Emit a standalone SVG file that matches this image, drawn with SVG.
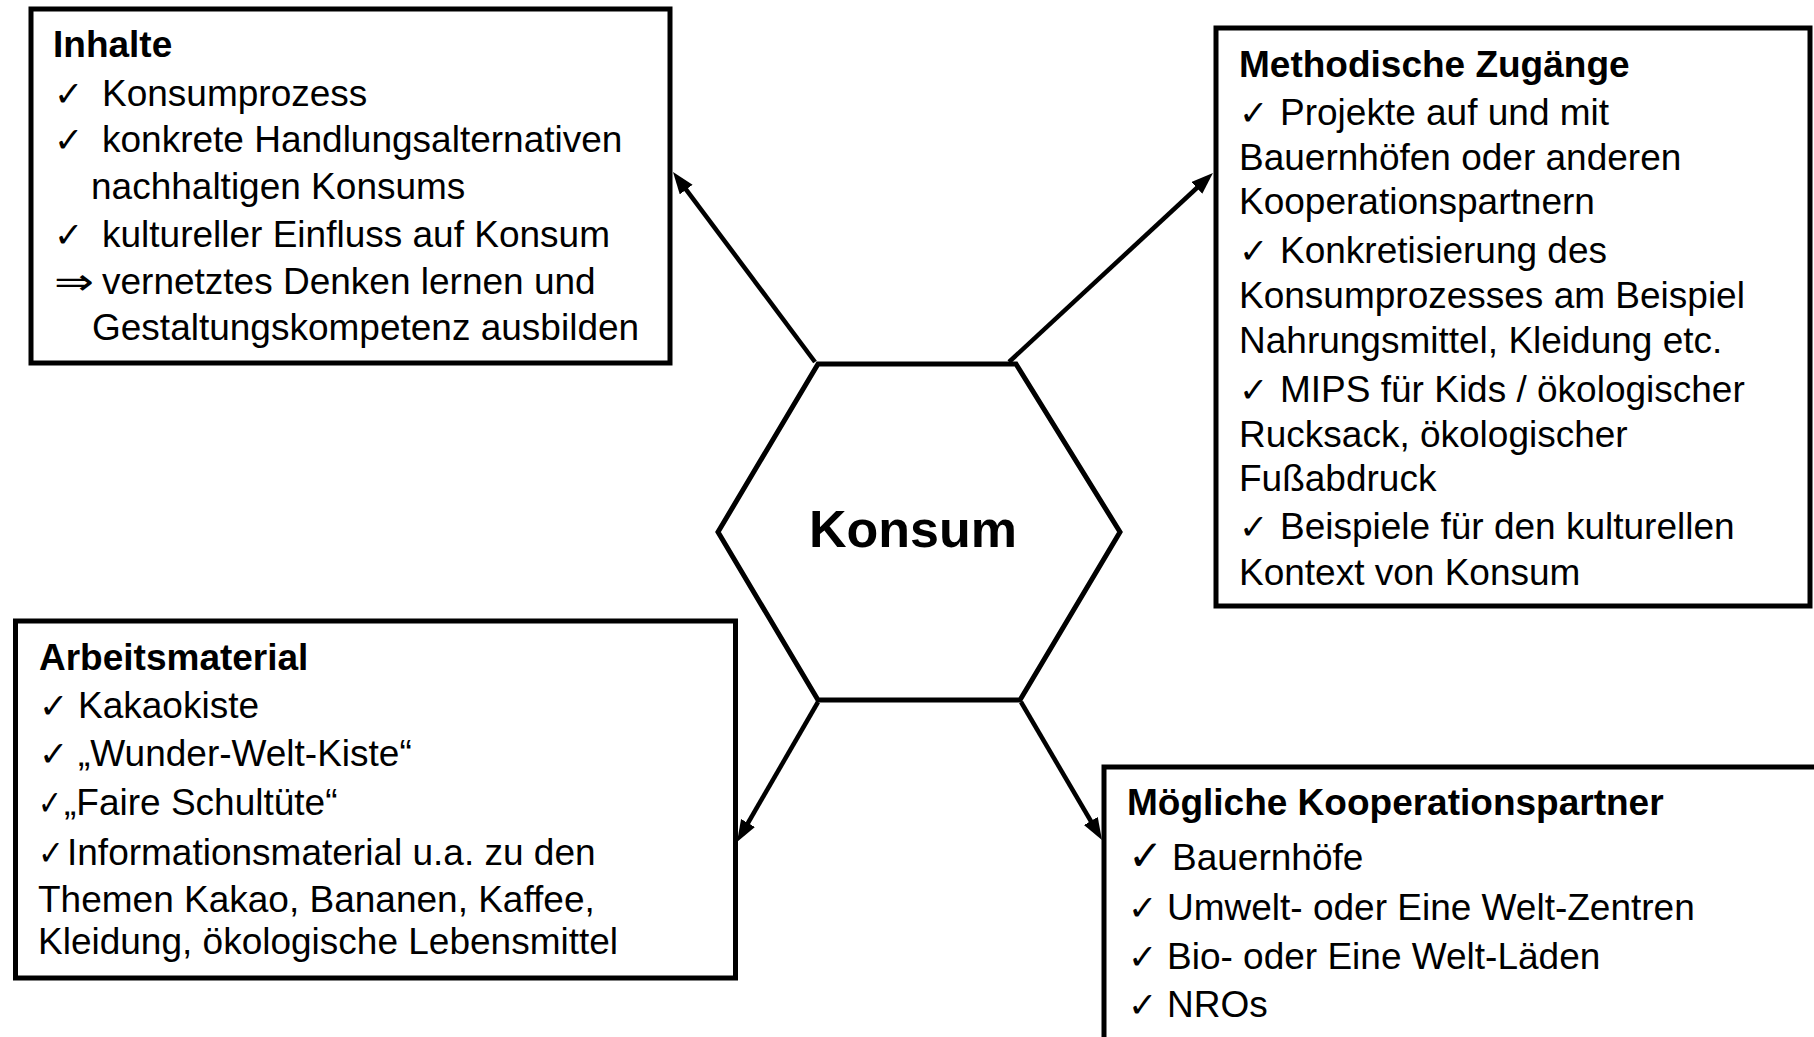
<svg xmlns="http://www.w3.org/2000/svg" width="1814" height="1037" viewBox="0 0 1814 1037">
<style>
text{font-family:"Liberation Sans",Arial,"DejaVu Sans",sans-serif;font-size:37px;fill:#000}
.b{font-weight:bold}
.ck{font-family:"DejaVu Sans","Liberation Sans",sans-serif;font-size:35px}
.box{fill:#fff;stroke:#000;stroke-width:5}
.hex{fill:#fff;stroke:#000;stroke-width:5;stroke-linejoin:miter}
.con{fill:none;stroke:#000;stroke-width:4.5}
</style>
<defs>
<marker id="arr" markerUnits="userSpaceOnUse" markerWidth="24" markerHeight="18" refX="11" refY="8" orient="auto">
<path d="M0,0 L22,8 L0,16 Z" fill="#000"/>
</marker>
</defs>
<rect width="1814" height="1037" fill="#fff"/>
<g id="connectors">
<line class="con" x1="815" y1="362" x2="679.6" y2="180.8" marker-end="url(#arr)"/>
<line class="con" x1="1009" y1="362" x2="1204.9" y2="180.5" marker-end="url(#arr)"/>
<line class="con" x1="818" y1="702" x2="742.5" y2="832.5" marker-end="url(#arr)"/>
<line class="con" x1="1021" y1="702" x2="1096.4" y2="830.5" marker-end="url(#arr)"/>
</g>
<g id="konsum">
<polygon class="hex" points="818,364 1016,364 1120,532 1020,700 818,700 718,532"/>
<text class="b" x="913" y="547" text-anchor="middle" style="font-size:52px">Konsum</text>
</g>
<g id="inhalte">
<rect class="box" x="31" y="9" width="639" height="354"/>
<text class="b" x="53" y="57">Inhalte</text>
<text y="106"><tspan class="ck" x="54">✓</tspan><tspan x="102">Konsumprozess</tspan></text>
<text y="152"><tspan class="ck" x="54">✓</tspan><tspan x="102">konkrete Handlungsalternativen</tspan></text>
<text x="91" y="199">nachhaltigen Konsums</text>
<text y="247"><tspan class="ck" x="54">✓</tspan><tspan x="102">kultureller Einfluss auf Konsum</tspan></text>
<text y="294"><tspan class="ck" x="54" style="font-size:36px" textLength="40" lengthAdjust="spacingAndGlyphs">⇒</tspan><tspan x="102">vernetztes Denken lernen und</tspan></text>
<text x="92" y="340">Gestaltungskompetenz ausbilden</text>
</g>
<g id="methodische">
<rect class="box" x="1216" y="28" width="594" height="578"/>
<text class="b" x="1239" y="77">Methodische Zugänge</text>
<text y="125"><tspan class="ck" x="1239">✓</tspan><tspan x="1280">Projekte auf und mit</tspan></text>
<text x="1239" y="170">Bauernhöfen oder anderen</text>
<text x="1239" y="214">Kooperationspartnern</text>
<text y="263"><tspan class="ck" x="1239">✓</tspan><tspan x="1280">Konkretisierung des</tspan></text>
<text x="1239" y="308">Konsumprozesses am Beispiel</text>
<text x="1239" y="353">Nahrungsmittel, Kleidung etc.</text>
<text y="402"><tspan class="ck" x="1239">✓</tspan><tspan x="1280">MIPS für Kids / ökologischer</tspan></text>
<text x="1239" y="447">Rucksack, ökologischer</text>
<text x="1239" y="491">Fußabdruck</text>
<text y="539"><tspan class="ck" x="1239">✓</tspan><tspan x="1280">Beispiele für den kulturellen</tspan></text>
<text x="1239" y="585">Kontext von Konsum</text>
</g>
<g id="arbeitsmaterial">
<rect class="box" x="15.5" y="621" width="720" height="357"/>
<text class="b" x="39" y="670">Arbeitsmaterial</text>
<text y="718"><tspan class="ck" x="39">✓</tspan><tspan x="78">Kakaokiste</tspan></text>
<text y="766"><tspan class="ck" x="39">✓</tspan><tspan x="78">„Wunder-Welt-Kiste“</tspan></text>
<text y="815"><tspan class="ck" x="38" textLength="24" lengthAdjust="spacingAndGlyphs">✓</tspan><tspan x="64">„Faire Schultüte“</tspan></text>
<text y="865"><tspan class="ck" x="38" textLength="26" lengthAdjust="spacingAndGlyphs">✓</tspan><tspan x="67">Informationsmaterial u.a. zu den</tspan></text>
<text x="38" y="912">Themen Kakao, Bananen, Kaffee,</text>
<text x="38" y="954">Kleidung, ökologische Lebensmittel</text>
</g>
<g id="kooperationspartner">
<rect class="box" x="1104" y="767" width="740" height="300"/>
<text class="b" x="1127" y="815">Mögliche Kooperationspartner</text>
<text y="870"><tspan class="ck" x="1128" style="font-size:42px">✓</tspan><tspan x="1172">Bauernhöfe</tspan></text>
<text y="920"><tspan class="ck" x="1128">✓</tspan><tspan x="1167">Umwelt- oder Eine Welt-Zentren</tspan></text>
<text y="969"><tspan class="ck" x="1128">✓</tspan><tspan x="1167">Bio- oder Eine Welt-Läden</tspan></text>
<text y="1017"><tspan class="ck" x="1128">✓</tspan><tspan x="1167">NROs</tspan></text>
</g>
</svg>
